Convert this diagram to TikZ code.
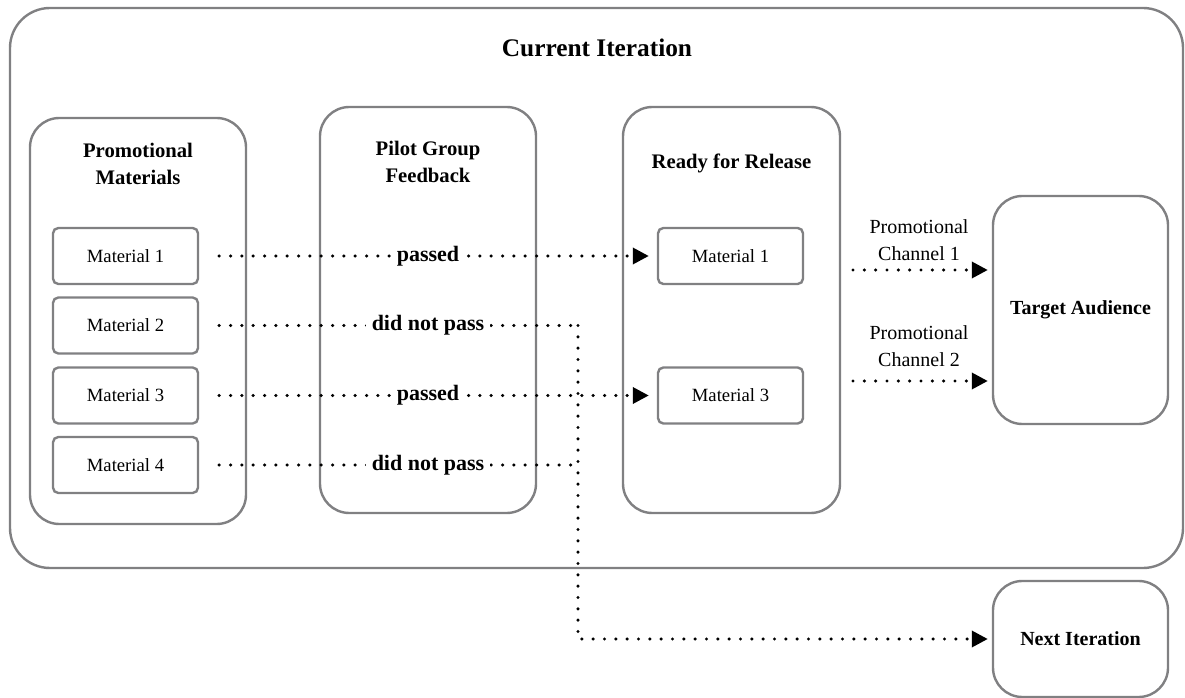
\documentclass[tikz,border=0pt]{standalone}
\usepackage{fontspec}
\setmainfont{Liberation Serif}
\usetikzlibrary{arrows.meta}
\definecolor{boxgray}{RGB}{128,128,130}
\begin{document}
\begin{tikzpicture}[x=0.75pt,y=-0.75pt,
  frame/.style={draw=boxgray, line width=1.8pt, rounded corners=#1, inner sep=0pt, fill=none},
  bigbox/.style={frame=30pt, minimum width=879.75pt, minimum height=420pt},
  cont/.style={frame=22pt, minimum width=162pt, minimum height=304.5pt},
  endbox/.style={frame=22pt, minimum width=131.25pt, font=\fontsize{15}{18}\selectfont\bfseries},
  matbox/.style={frame=4pt, minimum width=108.75pt, minimum height=42pt, font=\fontsize{14}{16}\selectfont},
  head/.style={align=center, font=\fontsize{15.5}{20}\selectfont\bfseries},
  chan/.style={align=center, font=\fontsize{15}{20}\selectfont},
  lbl/.style={fill=white, inner xsep=4pt, inner ysep=2pt, font=\fontsize{16.5}{18}\selectfont\bfseries},
  dotline/.style={line width=2.6pt, line cap=round, dash pattern=on 0pt off 8.5pt},
  tip/.style={-{Triangle[length=12pt,width=12pt]}}
]
\useasboundingbox (0,0) rectangle (1185,698);
% containers
\node[bigbox] (outer) at (596.5,288) {};
\node[font=\fontsize{19}{22}\selectfont\bfseries] (title) at (597,48) {Current Iteration};
\node[cont] (pm) at (138,321) {};
\node[cont] (pg) at (428,310) {};
\node[cont, minimum width=162.75pt] (rr) at (731.5,310) {};
\node[head] (pmh) at (138,164) {Promotional\\Materials};
\node[head] (pgh) at (428,162) {Pilot Group\\Feedback};
\node[head] (rrh) at (731.5,163) {Ready for Release};
\node[endbox, minimum height=171pt] (ta) at (1080.5,310) {Target Audience};
\node[endbox, minimum height=87pt] (ni) at (1080.5,639) {Next Iteration};
% materials
\node[matbox] (m1) at (125.5,256) {Material 1};
\node[matbox] (m2) at (125.5,325.5) {Material 2};
\node[matbox] (m3) at (125.5,395.5) {Material 3};
\node[matbox] (m4) at (125.5,465) {Material 4};
\node[matbox] (r1) at (730.5,256) {Material 1};
\node[matbox] (r3) at (730.5,395.5) {Material 3};
% flows
\coordinate (c2) at (578,325.5);
\coordinate (c4) at (578,465);
\coordinate (cd) at (578,639);
\draw[dotline, tip, shorten <=15pt, shorten >=6pt] (m1.east) -- (r1.west);
\draw[dotline, tip, shorten <=15pt, shorten >=6pt] (m3.east) -- (r3.west);
\draw[dotline, shorten <=15pt] (m2.east) -- (c2);
\draw[dotline, tip, shorten >=3pt] (c2) -- (cd) -- (ni.west);
\draw[dotline, shorten <=15pt] (m4.east) -- (c4);
\node[lbl] (l1) at (428,256) {passed};
\node[lbl] (l2) at (428,325.5) {did not pass};
\node[lbl] (l3) at (428,395.5) {passed};
\node[lbl] (l4) at (428,465) {did not pass};
% channels
\coordinate (ch1) at (853,270);
\coordinate (ch2) at (853,381);
\draw[dotline, tip, shorten >=3pt] (ch1) -- (ch1 -| ta.west);
\draw[dotline, tip, shorten >=3pt] (ch2) -- (ch2 -| ta.west);
\node[chan] (cl1) at (919,240) {Promotional\\Channel 1};
\node[chan] (cl2) at (919,346) {Promotional\\Channel 2};
\end{tikzpicture}
\end{document}
